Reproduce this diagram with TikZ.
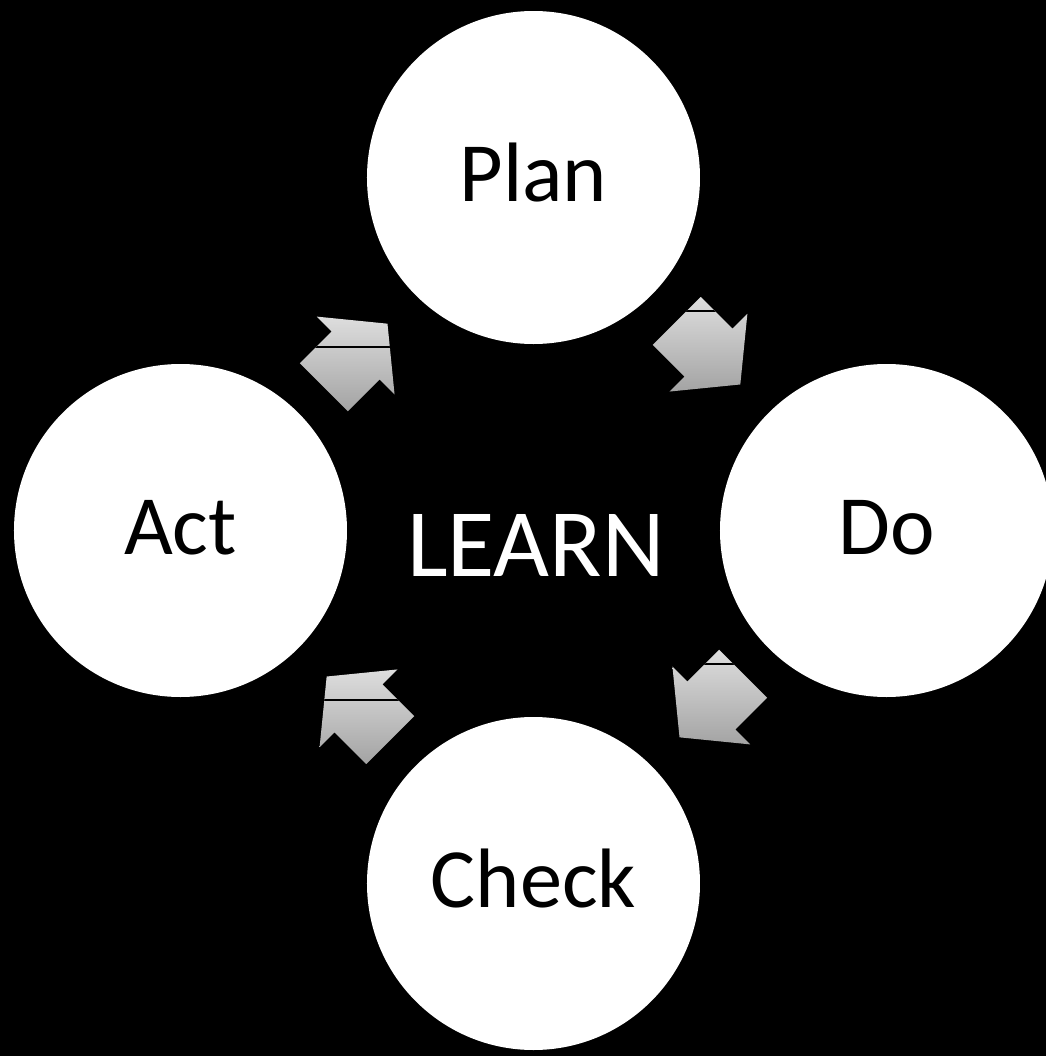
\documentclass[tikz,border=0pt]{standalone}
\usepackage{fontspec}
\setmainfont{Carlito}
\usetikzlibrary{positioning}

\definecolor{arrowtop}{gray}{0.87}
\definecolor{arrowbot}{gray}{0.64}

\begin{document}
\begin{tikzpicture}[
    stage/.style={circle, fill=white, minimum size=3.33cm, inner sep=0pt,
                  text height=0.6cm, text depth=0.13cm, font=\fontsize{24}{28}\selectfont},
    hub/.style={text=white, inner sep=0pt, font=\fontsize{27.5}{32}\selectfont},
    gapline/.style={black, line width=0.45pt},
]

% Background and page size
\fill[black] (-5.335,-5.255) rectangle (5.125,5.305);
\useasboundingbox (-5.335,-5.255) rectangle (5.125,5.305);

% Four stages of the cycle
\node[stage] (plan)  at (0,3.53)  {Plan};
\node[stage] (do)    at (3.53,0)  {Do};
\node[stage] (check) at (0,-3.53) {Check};
\node[stage] (act)   at (-3.53,0) {Act};

% Centre label
\node[hub, anchor=base] (learn) at (0.025,-0.46) {LEARN};

% Block arrows between the stages (angle/rotation/line offset/bottom/top)
\foreach \a/\r/\d/\lo/\hi in {45/-45/0.43/-0.38/0.57, -45/-135/0.43/-0.38/0.57,
                              -135/135/0.07/-0.57/0.38, 135/45/0.07/-0.57/0.38} {
    \pgfmathsetmacro{\h}{\hi-\lo}
    \begin{scope}
        \clip[shift={(\a:2.495)}, rotate=\r]
            (-0.47,0.34) -- (-0.02,0.34) -- (-0.02,0.55) -- (0.43,0)
            -- (-0.02,-0.55) -- (-0.02,-0.34) -- (-0.47,-0.34) -- cycle;
        \shade[top color=arrowtop, bottom color=arrowbot]
            (\a:2.495) ++(-0.7,\lo) rectangle ++(1.4,\h);
        \draw[gapline] (\a:2.495) ++(-0.7,\d) -- ++(1.4,0);
    \end{scope}
}

\end{tikzpicture}
\end{document}
